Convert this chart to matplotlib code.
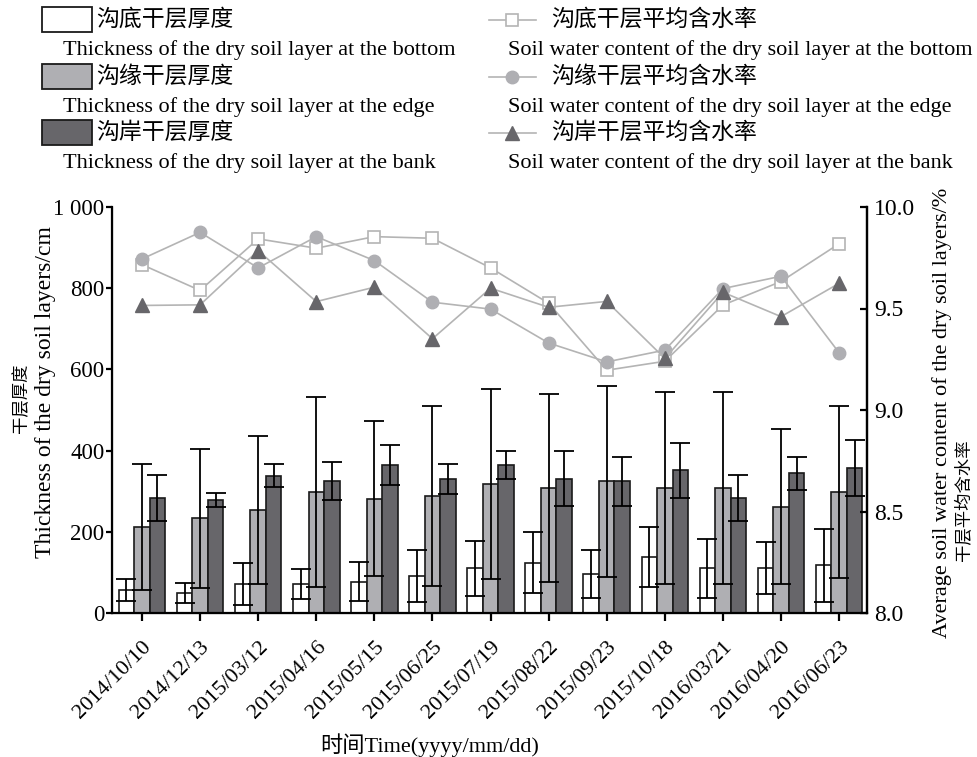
import numpy as np
import matplotlib.pyplot as plt
from matplotlib.patches import Rectangle
from matplotlib.lines import Line2D

plt.rcParams['font.family'] = ['Liberation Serif', 'Noto Sans CJK SC']

# sampling dates
dates = ['2014/10/10', '2014/12/13', '2015/03/12', '2015/04/16', '2015/05/15',
         '2015/06/25', '2015/07/19', '2015/08/22', '2015/09/23', '2015/10/18',
         '2016/03/21', '2016/04/20', '2016/06/23']

# dry soil layer thickness (cm) and error
bottom_thk = [57, 50, 71, 71, 77, 91, 110, 124, 96, 138, 110, 110, 117]
bottom_err = [27, 25, 52, 37, 48, 63, 67, 75, 58, 74, 72, 64, 90]
edge_thk = [212, 233, 254, 298, 282, 288, 318, 308, 324, 308, 308, 262, 298]
edge_err = [156, 172, 182, 234, 192, 222, 234, 232, 236, 236, 236, 191, 213]
bank_thk = [284, 278, 338, 325, 365, 331, 365, 331, 324, 351, 284, 344, 357]
bank_err = [57, 17, 28, 47, 50, 37, 34, 67, 61, 67, 57, 41, 70]

# average soil water content of the dry layer (%)
bottom_wc = [9.716, 9.589, 9.843, 9.797, 9.854, 9.846, 9.70, 9.526, 9.196, 9.24, 9.517, 9.633, 9.819]
edge_wc = [9.744, 9.875, 9.70, 9.854, 9.736, 9.531, 9.497, 9.33, 9.237, 9.295, 9.598, 9.659, 9.282]
bank_wc = [9.515, 9.518, 9.785, 9.534, 9.605, 9.351, 9.60, 9.506, 9.535, 9.254, 9.58, 9.46, 9.624]

W, H = 978, 757
fx = lambda px: px / W
fy = lambda py: 1 - py / H

c_white, c_gray, c_dark = 'white', '#afafb3', '#67666a'
c_line = '#b4b4b4'

fig = plt.figure(figsize=(9.78, 7.57), dpi=100)
ax = fig.add_axes([fx(112), fy(613), fx(867) - fx(112), fy(207) - fy(613)])

x = np.arange(len(dates))
w = 0.267
ekw = dict(ecolor='black', elinewidth=1.3, capsize=7, capthick=1.3)
ax.bar(x - w, bottom_thk, w, yerr=bottom_err, color=c_white, edgecolor='#1a1a1a', lw=1.2, error_kw=ekw)
ax.bar(x, edge_thk, w, yerr=edge_err, color=c_gray, edgecolor='#1a1a1a', lw=1.2, error_kw=ekw)
ax.bar(x + w, bank_thk, w, yerr=bank_err, color=c_dark, edgecolor='#1a1a1a', lw=1.2, error_kw=ekw)

ax.set_xlim(-0.516, 12.48)
ax.set_ylim(0, 1000)
ax.set_yticks([0, 200, 400, 600, 800, 1000])
ax.set_yticklabels(['0', '200', '400', '600', '800', '1 000'], fontsize=16.5)
ax.set_xticks(x)
ax.set_xticklabels(dates, rotation=45, ha='right', rotation_mode='anchor', fontsize=16)
ax.spines['top'].set_visible(False)
for s in ['left', 'bottom', 'right']:
    ax.spines[s].set_linewidth(1.6)
ax.tick_params(axis='y', direction='out', length=4.5, width=1.6, pad=1)
ax.tick_params(axis='x', direction='out', length=6, width=1.6, pad=12)

ax2 = ax.twinx()
ax2.set_ylim(8, 10)
ax2.set_yticks([8.0, 8.5, 9.0, 9.5, 10.0])
ax2.set_yticklabels(['8.0', '8.5', '9.0', '9.5', '10.0'], fontsize=17)
ax2.spines['top'].set_visible(False)
ax2.spines['right'].set_linewidth(1.6)
ax2.tick_params(axis='y', direction='in', length=5, width=1.6, pad=5)
ax2.plot(x, bottom_wc, color=c_line, lw=1.2, marker='s', mfc='white', mec=c_line, ms=8.5, mew=1.2)
ax2.plot(x, edge_wc, color=c_line, lw=1.2, marker='o', mfc=c_gray, mec=c_gray, ms=9)
ax2.plot(x, bank_wc, color=c_line, lw=1.2, marker='^', mfc=c_dark, mec=c_dark, ms=10)

# axis titles
fig.text(fx(22), fy(398), '干层厚度', rotation=90, ha='center', va='center', fontsize=12.5)
fig.text(fx(46), fy(392), 'Thickness of the dry soil layers/cm', rotation=90, ha='center', va='center', fontsize=17)
fig.text(fx(942), fy(413), 'Average soil water content of the dry soil layers/%', rotation=90,
         ha='center', va='center', fontsize=16)
fig.text(fx(964), fy(500), '干层平均含水率', rotation=90, ha='center', va='center', fontsize=12.5)
fig.text(fx(430), fy(745), '时间Time(yyyy/mm/dd)', ha='center', va='center', fontsize=16)

# legend
bar_items = [(c_white, '沟底干层厚度', 'Thickness of the dry soil layer at the bottom'),
             (c_gray, '沟缘干层厚度', 'Thickness of the dry soil layer at the edge'),
             (c_dark, '沟岸干层厚度', 'Thickness of the dry soil layer at the bank')]
line_items = [(dict(marker='s', mfc='white', mec=c_line, ms=8.5, mew=1.2), '沟底干层平均含水率',
               'Soil water content of the dry soil layer at the bottom'),
              (dict(marker='o', mfc=c_gray, mec=c_gray, ms=9), '沟缘干层平均含水率',
               'Soil water content of the dry soil layer at the edge'),
              (dict(marker='^', mfc=c_dark, mec=c_dark, ms=10), '沟岸干层平均含水率',
               'Soil water content of the dry soil layer at the bank')]
row_top = [7, 64, 120]
for i, (col, cn, en) in enumerate(bar_items):
    t = row_top[i]
    fig.add_artist(Rectangle((fx(42), fy(t + 25)), fx(92) - fx(42), fy(t) - fy(t + 25),
                             transform=fig.transFigure, facecolor=col, edgecolor='#1a1a1a', lw=1.3))
    fig.text(fx(96), fy(t + 13), cn, ha='left', va='center', fontsize=16.5)
    fig.text(fx(63), fy(t + 43), en, ha='left', va='center', fontsize=16)
for i, (mk, cn, en) in enumerate(line_items):
    t = row_top[i]
    fig.add_artist(Line2D([fx(489), fx(536)], [fy(t + 13)] * 2, transform=fig.transFigure,
                          color=c_line, lw=1.2))
    fig.add_artist(Line2D([fx(512)], [fy(t + 13)], transform=fig.transFigure, ls='none', **mk))
    fig.text(fx(551), fy(t + 13), cn, ha='left', va='center', fontsize=16.5)
    fig.text(fx(508), fy(t + 43), en, ha='left', va='center', fontsize=16)

fig.savefig('out.png', dpi=100)
